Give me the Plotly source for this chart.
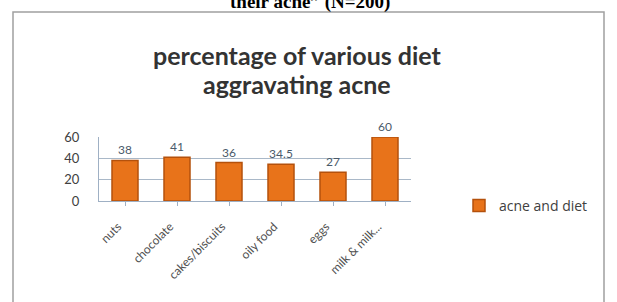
import plotly.graph_objects as go

categories = ["nuts", "chocolate", "cakes/biscuits", "oily food", "eggs", "milk & milk..."]
values = [38, 41, 36, 34.5, 27, 60]
value_labels = ["38", "41", "36", "34.5", "27", "60"]
series_name = "acne and diet"
y_ticks = [0, 20, 40, 60]

L, R, T, B = 99, 206, 137, 101
W, H = 617, 302
pw = W - L - R
ph = H - T - B

def px_x(px):
    return (px - L) / pw

def px_y(py):
    return (H - B - py) / ph

fig = go.Figure()
fig.add_trace(go.Bar(
    x=categories, y=values, name=series_name,
    marker=dict(color="#E8731A", line=dict(color="#B4510C", width=1.5)),
    text=value_labels, textposition="outside",
    textfont=dict(family="Lato", size=12, color="#4a5a6a"),
    cliponaxis=False, width=0.5,
))

fig.update_layout(
    width=W, height=H,
    margin=dict(l=L, r=R, t=T, b=B, pad=0),
    paper_bgcolor="white", plot_bgcolor="white",
    showlegend=True,
    legend=dict(x=px_x(459), y=px_y(206), xanchor="left", yanchor="middle",
                font=dict(family="Open Sans", size=14, color="#404040"),
                itemwidth=30, bgcolor="rgba(0,0,0,0)"),
    xaxis=dict(showgrid=False, showline=True, linecolor="#9fb0c4", ticks="outside",
               tickcolor="#9fb0c4", ticklen=4, tickangle=-45, automargin=False,
               ticklabelstandoff=9, ticklabelshift=-7,
               tickfont=dict(family="Lato", size=12, color="#505050")),
    yaxis=dict(range=[0, 60], tickvals=y_ticks, showgrid=True, gridcolor="#a9b8c8",
               zeroline=False, showline=True, linecolor="#9fb0c4", automargin=False,
               ticklabelstandoff=16,
               tickfont=dict(family="Lato", size=13, color="#404040"), ticklen=0),
    font=dict(family="Lato"),
)

fig.add_shape(type="rect", xref="paper", yref="paper",
              x0=px_x(13), x1=px_x(604), y0=px_y(310), y1=px_y(12),
              line=dict(color="#a0a0a0", width=1.5), layer="below")

fig.add_annotation(xref="paper", yref="paper", x=px_x(297), y=px_y(55),
                   text="<b>percentage of various diet</b>",
                   showarrow=False, font=dict(family="Lato", size=25, color="#333333"),
                   xanchor="center", yanchor="middle")
fig.add_annotation(xref="paper", yref="paper", x=px_x(297), y=px_y(84),
                   text="<b>aggravating acne</b>",
                   showarrow=False, font=dict(family="Lato", size=25, color="#333333"),
                   xanchor="center", yanchor="middle")

fig.add_annotation(xref="paper", yref="paper", x=px_x(310), y=px_y(2),
                   text="<b>their acne\u201d (N=200)</b>",
                   showarrow=False, font=dict(family="Liberation Serif", size=19, color="black"),
                   xanchor="center", yanchor="middle")

fig.write_html("out.html", config={"displayModeBar": False},
               post_script="document.body.style.margin='0px';")
